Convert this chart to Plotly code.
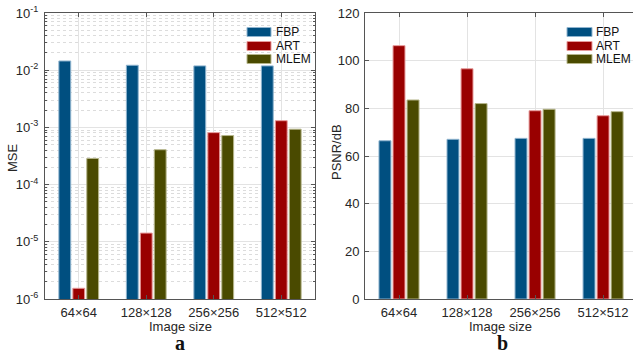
import plotly.graph_objects as go

categories = ["64×64", "128×128", "256×256", "512×512"]
methods = ["FBP", "ART", "MLEM"]

mse_fbp = [1.45e-2, 1.22e-2, 1.19e-2, 1.19e-2]
mse_art = [1.54e-6, 1.42e-5, 8.1e-4, 1.31e-3]
mse_mlem = [2.87e-4, 4.07e-4, 7.2e-4, 9.3e-4]

psnr_fbp = [66.4, 67.0, 67.4, 67.4]
psnr_art = [106.3, 96.6, 79.0, 76.9]
psnr_mlem = [83.5, 82.0, 79.6, 78.6]

log_tickvals = [1e-6, 1e-5, 1e-4, 1e-3, 1e-2, 1e-1]
log_ticktext = ["10<sup>-6</sup>", "10<sup>-5</sup>", "10<sup>-4</sup>",
                "10<sup>-3</sup>", "10<sup>-2</sup>", "10<sup>-1</sup>"]
lin_tickvals = [0, 20, 40, 60, 80, 100, 120]

fills = ["#004f80", "#990000", "#4a4a00"]
edges = ["#8fb4cf", "#e79a9a", "#b5b58a"]

W, H = 633, 356
FONT = "Liberation Sans, Arial, sans-serif"
TXT = "#262626"
AX = "#555555"
GRID = "#e3e3e3"

fig = go.Figure()
mse = [mse_fbp, mse_art, mse_mlem]
psnr = [psnr_fbp, psnr_art, psnr_mlem]
for i, m in enumerate(methods):
    fig.add_trace(go.Bar(x=categories, y=mse[i], name=m, xaxis="x", yaxis="y",
                         marker=dict(color=fills[i], line=dict(color=edges[i], width=1)),
                         showlegend=False, offsetgroup=str(i)))
for i, m in enumerate(methods):
    fig.add_trace(go.Bar(x=categories, y=psnr[i], name=m, xaxis="x2", yaxis="y2",
                         marker=dict(color=fills[i], line=dict(color=edges[i], width=1)),
                         showlegend=False, offsetgroup=str(i)))

def px(x):
    return x / W

def py(y):
    return 1 - y / H

ydom = [py(299), py(13)]
common_x = dict(type="category", showgrid=True, gridcolor=GRID, gridwidth=1,
                ticks="inside", ticklen=4, tickcolor=AX, showline=True, linecolor=AX,
                linewidth=1, tickfont=dict(family=FONT, size=13, color=TXT), zeroline=False,
                ticklabelstandoff=1, automargin=False, ticklabeloverflow="allow")

fig.update_layout(
    width=W, height=H, margin=dict(l=0, r=0, t=0, b=0, autoexpand=False),
    paper_bgcolor="white", plot_bgcolor="white",
    barmode="group", bargap=0.38, bargroupgap=0.15,
    showlegend=False,
    xaxis=dict(domain=[px(45), px(315)], anchor="y", range=[-0.5, 3.5], mirror="ticks", **common_x),
    yaxis=dict(domain=ydom, anchor="x", type="log", range=[-6, -1],
               tickvals=log_tickvals, ticktext=log_ticktext,
               showgrid=True, gridcolor=GRID, gridwidth=1,
               ticks="inside", ticklen=4, tickcolor=AX, showline=True, linecolor=AX, linewidth=1,
               mirror="ticks", tickfont=dict(family=FONT, size=13, color=TXT),
               minor=dict(dtick="D1", ticks="inside", ticklen=2, tickcolor=AX,
                          showgrid=True, gridcolor="#dcdcdc", griddash="dot", gridwidth=1),
               ticklabelstandoff=3, automargin=False, ticklabeloverflow="allow"),
    xaxis2=dict(domain=[px(365), 1.0], anchor="y2", range=[-0.5, 3.44], mirror="ticks", **common_x),
    yaxis2=dict(domain=ydom, anchor="x2", range=[0, 120], tickvals=lin_tickvals,
                showgrid=True, gridcolor=GRID, gridwidth=1,
                ticks="inside", ticklen=4, tickcolor=AX, showline=True, linecolor=AX, linewidth=1,
                mirror=False, zeroline=False, tickfont=dict(family=FONT, size=13, color=TXT),
                ticklabelstandoff=2, automargin=False, ticklabeloverflow="allow"),
)

ann = []
shapes = []

def label(text, x, y, size=13, angle=0, family=FONT, color=TXT, xanchor="center"):
    ann.append(dict(text=text, x=px(x), y=py(y), xref="paper", yref="paper", textangle=angle,
                    xanchor=xanchor, yanchor="middle", showarrow=False,
                    font=dict(family=family, size=size, color=color)))

SERIF = "Liberation Serif, Times New Roman, serif"
label("MSE", 12, 158, angle=-90)
label("PSNR/dB", 337, 152, angle=-90)
label("Image size", 180, 326)
label("Image size", 500, 326)
label("<b>a</b>", 180, 343, size=20, family=SERIF, color="#111")
label("<b>b</b>", 502, 343, size=20, family=SERIF, color="#111")

# legends
for (x0, x1, tx, rows) in [(247, 271, 274, [32, 46, 59]), (567, 592, 594, [32, 46, 59])]:
    for i, m in enumerate(methods):
        yc = rows[i]
        shapes.append(dict(type="rect", xref="paper", yref="paper",
                           x0=px(x0), x1=px(x1), y0=py(yc + 4.5), y1=py(yc - 4.5),
                           fillcolor=fills[i], line=dict(color=edges[i], width=1)))
        label(m, tx, yc, size=12, color="#111", xanchor="left")

fig.update_layout(annotations=ann, shapes=shapes)
fig.write_html("out.html", config={"displayModeBar": False},
               post_script="document.body.style.margin='0';document.body.style.overflow='hidden';")
